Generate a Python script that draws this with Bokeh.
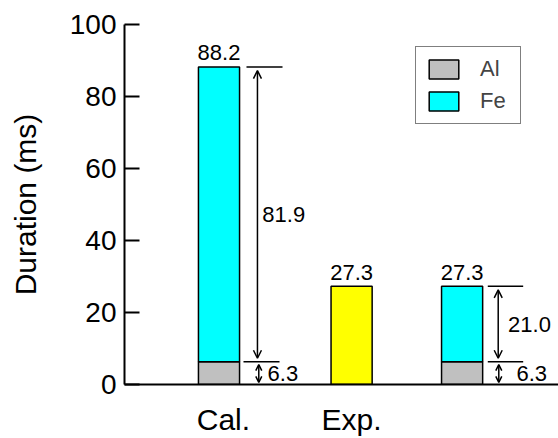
from bokeh.plotting import figure
from bokeh.models import (Range1d, FixedTicker, CustomJSTickFormatter, Arrow, OpenHead,
                          Legend, LegendItem, ColumnDataSource)
from bokeh.core.properties import value
from bokeh.embed import file_html
from bokeh.resources import INLINE

# ---------------- data ----------------
x_labels = ["Cal.", "Exp."]
al_ms = [6.3, 0.0, 6.3]      # Al part (calculated bars)
fe_ms = [81.9, 0.0, 21.0]    # Fe part (calculated bars)
exp_ms = [0.0, 27.3, 0.0]    # experimental bar
y_ticks = [0, 20, 40, 60, 80, 100]

# ---------------- layout (positions / styles) ----------------
bar_x = [1.0, 4.0, 6.5]
label_x = [1.1, 4.0]
bar_w = 0.93
# annotation offsets (relative to bar centre) for the two stacked bars
ann = {
    0: dict(top=(0.622, 1.437), low=(0.554, 1.369), arr=0.87, sarr=0.90, tfe=0.98, tal=1.10),
    2: dict(top=(0.581, 1.382), low=(0.581, 1.382), arr=0.817, sarr=0.83, tfe=1.04, tal=1.23),
}
FONT = "Liberation Sans"

totals = [a + f + e for a, f, e in zip(al_ms, fe_ms, exp_ms)]

p = figure(width=558, height=438, x_range=Range1d(-1.138, 8.681), y_range=Range1d(0, 100),
           output_backend="svg", toolbar_location=None,
           min_border_left=124, min_border_right=0, min_border_top=24, min_border_bottom=52)
p.xgrid.visible = False
p.ygrid.visible = False
p.outline_line_color = None
p.background_fill_color = "white"
p.border_fill_color = "white"

# bars
stk = [i for i in range(3) if al_ms[i] + fe_ms[i] > 0]
ex = [i for i in range(3) if exp_ms[i] > 0]
src_stk = ColumnDataSource(dict(
    x=[bar_x[i] for i in stk],
    al=[al_ms[i] for i in stk],
    tot=[al_ms[i] + fe_ms[i] for i in stk],
))
src_ex = ColumnDataSource(dict(x=[bar_x[i] for i in ex], top=[exp_ms[i] for i in ex]))

r_al = p.vbar(x="x", width=bar_w, bottom=0, top="al", source=src_stk,
              fill_color="#C0C0C0", line_color="black", line_width=1.5)
r_fe = p.vbar(x="x", width=bar_w, bottom="al", top="tot", source=src_stk,
              fill_color="#00FFFF", line_color="black", line_width=1.5)
p.vbar(x="x", width=bar_w, bottom=0, top="top", source=src_ex,
       fill_color="#FFFF00", line_color="black", line_width=1.5)

# total value labels
p.text(x=bar_x, y=totals, text=[f"{t:.1f}" for t in totals],
       text_font=value(FONT), text_font_size="22px", text_align="center",
       text_baseline="alphabetic", y_offset=-14, text_color="black")

# dimension annotations
for i, a in ann.items():
    cx = bar_x[i]
    p.segment(x0=[cx + a["top"][0], cx + a["low"][0]], x1=[cx + a["top"][1], cx + a["low"][1]],
              y0=[totals[i], al_ms[i]], y1=[totals[i], al_ms[i]],
              line_color="black", line_width=1.5)
    p.add_layout(Arrow(start=OpenHead(size=8, line_width=1.5), end=OpenHead(size=8, line_width=1.5),
                       x_start=cx + a["arr"], y_start=al_ms[i] + 1.0, x_end=cx + a["arr"], y_end=totals[i] - 1.0,
                       line_width=1.5))
    p.add_layout(Arrow(start=OpenHead(size=6, line_width=1.5), end=OpenHead(size=6, line_width=1.5),
                       x_start=cx + a["sarr"], y_start=0.6, x_end=cx + a["sarr"], y_end=al_ms[i] - 0.8,
                       line_width=1.5))
    p.text(x=[cx + a["tfe"], cx + a["tal"]], y=[(al_ms[i] + totals[i]) / 2, al_ms[i] / 2],
           text=[f"{fe_ms[i]:.1f}", f"{al_ms[i]:.1f}"],
           text_font=value(FONT), text_font_size="22px", text_align="left",
           text_baseline="middle", text_color="black")

# axes
ya = p.yaxis[0]
ya.ticker = FixedTicker(ticks=y_ticks)
ya.axis_label = "Duration (ms)"
ya.axis_label_text_font = FONT
ya.axis_label_text_font_size = "30px"
ya.axis_label_text_font_style = "normal"
ya.axis_label_text_color = "black"
ya.axis_label_standoff = 25
ya.major_label_text_font = FONT
ya.major_label_text_font_size = "28px"
ya.major_label_text_color = "black"
ya.major_label_standoff = 8
ya.major_tick_in = 15
ya.major_tick_out = 0
ya.minor_tick_line_color = None
ya.axis_line_width = 2
ya.major_tick_line_width = 2
ya.axis_line_color = "black"
ya.major_tick_line_color = "black"

xa = p.xaxis[0]
xa.ticker = FixedTicker(ticks=label_x)
xa.formatter = CustomJSTickFormatter(args=dict(names=x_labels), code="return names[index] || '';")
xa.major_label_text_font = FONT
xa.major_label_text_font_size = "30px"
xa.major_label_text_color = "black"
xa.major_label_standoff = 18
xa.major_tick_in = 0
xa.major_tick_out = 0
xa.minor_tick_line_color = None
xa.axis_line_width = 2
xa.axis_line_color = "black"

legend = Legend(items=[LegendItem(label="Al", renderers=[r_al]),
                       LegendItem(label="Fe", renderers=[r_fe])],
                location=(291, 260), padding=9, spacing=6, margin=0,
                glyph_width=37, glyph_height=24, label_standoff=18,
                label_width=31, label_height=24,
                label_text_font=FONT, label_text_font_size="22px",
                border_line_color="black", border_line_width=1,
                background_fill_color="white", background_fill_alpha=1)
p.add_layout(legend)

open("out.html", "w").write(file_html(p, INLINE))
